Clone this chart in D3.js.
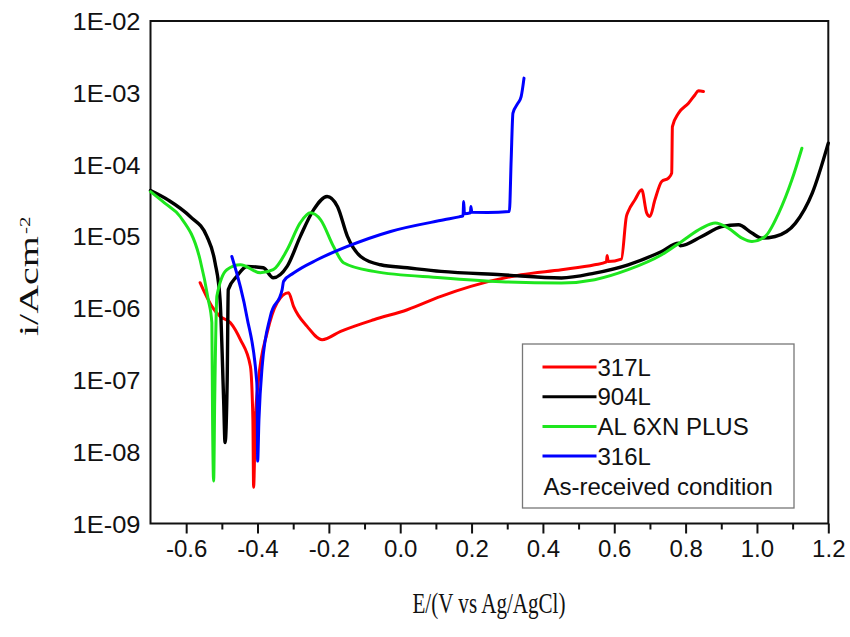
<!DOCTYPE html>
<html>
<head>
<meta charset="utf-8">
<script src="https://cdn.jsdelivr.net/npm/d3@7"></script>
<style>
  body { margin: 0; background: #fff; }
  svg { display: block; }
  .tick-label { font-family: "Liberation Sans", Arial, sans-serif; font-size: 24px; fill: #111; }
  .axis-title { font-family: "Liberation Serif", "Times New Roman", serif; fill: #111; }
  .legend-text { font-family: "Liberation Sans", Arial, sans-serif; font-size: 24px; fill: #111; }
</style>
</head>
<body>
<div id="chart-container"></div>
<script>
/**************************************************
 * Polarization data: [E (V vs Ag/AgCl), i (A/cm2)]
 **************************************************/

const series317L = [
  [-0.561, 2.26e-6], [-0.528, 1.06e-6], [-0.505, 7.67e-7], [-0.476, 6.27e-7],
  [-0.448, 3.64e-7], [-0.420, 1.55e-7], [-0.413, 2.8e-8], [-0.411, 3.2e-9],
  [-0.406, 2.8e-8], [-0.398, 9.2e-8], [-0.373, 4.55e-7], [-0.345, 1.19e-6],
  [-0.313, 1.64e-6], [-0.299, 1.06e-6], [-0.261, 5.57e-7], [-0.219, 3.64e-7],
  [-0.167, 4.75e-7], [-0.074, 6.9e-7], [0.020, 9.5e-7], [0.114, 1.46e-6],
  [0.198, 2.01e-6], [0.339, 2.92e-6], [0.452, 3.43e-6], [0.545, 4.02e-6],
  [0.578, 4.4e-6], [0.580, 5.4e-6], [0.583, 4.47e-6], [0.620, 4.83e-6],
  [0.634, 1.89e-5], [0.639, 2.22e-5], [0.658, 3.23e-5], [0.677, 4.45e-5],
  [0.691, 2.11e-5], [0.700, 1.89e-5], [0.714, 3.23e-5], [0.733, 5.81e-5],
  [0.752, 6.47e-5], [0.761, 7.6e-5], [0.763, 3.38e-4], [0.780, 5.19e-4],
  [0.808, 7.16e-4], [0.826, 9.33e-4], [0.836, 1.07e-3], [0.850, 1.04e-3]
];

const series904L = [
  [-0.700, 4.35e-5], [-0.650, 3.2e-5], [-0.589, 1.89e-5], [-0.542, 1.0e-5],
  [-0.519, 4.29e-6], [-0.505, 1.31e-6], [-0.495, 5.3e-8], [-0.491, 1.34e-8],
  [-0.485, 1.01e-7], [-0.482, 1.81e-6], [-0.458, 2.77e-6], [-0.430, 3.81e-6],
  [-0.384, 3.65e-6], [-0.356, 2.65e-6], [-0.317, 3.81e-6], [-0.280, 1.0e-5],
  [-0.243, 2.34e-5], [-0.205, 3.59e-5], [-0.176, 2.61e-5], [-0.148, 1.0e-5],
  [-0.111, 5.25e-6], [-0.055, 4.02e-6], [0.020, 3.65e-6], [0.114, 3.25e-6],
  [0.283, 2.92e-6], [0.452, 2.63e-6], [0.545, 3.08e-6], [0.639, 4.02e-6],
  [0.733, 6.16e-6], [0.780, 8.06e-6], [0.785, 7.4e-6], [0.845, 9.96e-6],
  [0.901, 1.37e-5], [0.948, 1.45e-5], [0.986, 1.11e-5], [1.014, 9.46e-6],
  [1.051, 9.96e-6], [1.108, 1.53e-5], [1.155, 4.0e-5], [1.200, 1.99e-4]
];

const series6XN = [
  [-0.700, 4.2e-5], [-0.660, 2.9e-5], [-0.617, 1.89e-5], [-0.561, 4.72e-6],
  [-0.538, 1.31e-6], [-0.528, 6.27e-7], [-0.526, 2.8e-8], [-0.523, 3.9e-9],
  [-0.520, 5.3e-8], [-0.514, 1.46e-6], [-0.486, 3.43e-6], [-0.448, 4.02e-6],
  [-0.392, 3.11e-6], [-0.356, 3.43e-6], [-0.317, 6.5e-6], [-0.280, 1.55e-5],
  [-0.252, 2.13e-5], [-0.223, 1.70e-5], [-0.187, 7.23e-6], [-0.159, 4.29e-6],
  [-0.074, 3.25e-6], [0.114, 2.65e-6], [0.283, 2.33e-6], [0.452, 2.24e-6],
  [0.545, 2.49e-6], [0.639, 3.43e-6], [0.733, 5.54e-6], [0.789, 8.49e-6],
  [0.845, 1.30e-5], [0.883, 1.53e-5], [0.920, 1.30e-5], [0.958, 9.46e-6],
  [0.986, 8.49e-6], [1.023, 9.96e-6], [1.061, 2.11e-5], [1.098, 6.13e-5],
  [1.126, 1.69e-4]
];

const series316L = [
  [-0.472, 5.25e-6], [-0.430, 7.67e-7], [-0.402, 9.2e-8], [-0.4005, 2.8e-8],
  [-0.3997, 7.4e-9], [-0.396, 2.8e-8], [-0.387, 1.55e-7], [-0.364, 7.67e-7],
  [-0.331, 1.81e-6], [-0.327, 2.36e-6], [-0.299, 3.08e-6], [-0.233, 4.72e-6],
  [-0.148, 7.23e-6], [-0.027, 1.17e-5], [0.123, 1.70e-5], [0.165, 1.87e-5],
  [0.176, 1.93e-5], [0.178, 3.06e-5], [0.180, 2.06e-5], [0.197, 2.13e-5],
  [0.198, 2.61e-5], [0.201, 2.16e-5], [0.245, 2.15e-5], [0.306, 2.22e-5],
  [0.311, 1.16e-4], [0.316, 5.19e-4], [0.330, 7.16e-4], [0.339, 8.84e-4],
  [0.347, 1.6e-3]
];

const seriesNames = ["317L", "904L", "AL 6XN PLUS", "316L"];
const seriesColors = ["#ff0000", "#000000", "#1ee61e", "#0000ff"];
const seriesData = [series317L, series904L, series6XN, series316L];
const legendNote = "As-received condition";

const xTicks = [-0.6, -0.4, -0.2, 0.0, 0.2, 0.4, 0.6, 0.8, 1.0, 1.2];
const xTickLabels = ["-0.6", "-0.4", "-0.2", "0.0", "0.2", "0.4", "0.6", "0.8", "1.0", "1.2"];
const xMinorTicks = [-0.5, -0.3, -0.1, 0.1, 0.3, 0.5, 0.7, 0.9, 1.1];
const yTicks = [1e-9, 1e-8, 1e-7, 1e-6, 1e-5, 1e-4, 1e-3, 1e-2];
const yTickLabels = ["1E-09", "1E-08", "1E-07", "1E-06", "1E-05", "1E-04", "1E-03", "1E-02"];

/**************************************************
 * Rendering
 **************************************************/

const width = 850, height = 637;
const plotLeft = 150.5, plotRight = 828.3, plotTop = 21, plotBottom = 523.5;

const svg = d3.select("#chart-container")
  .append("svg")
  .attr("width", width)
  .attr("height", height);

const xScale = d3.scaleLinear().domain([-0.7, 1.2]).range([plotLeft, plotRight]);
const yScale = d3.scaleLog().domain([1e-9, 1e-2]).range([plotBottom, plotTop]);

// minor x ticks first, so the major axis draws over them
svg.append("g")
  .attr("transform", `translate(0,${plotBottom})`)
  .call(d3.axisBottom(xScale).tickValues(xMinorTicks).tickSize(6).tickSizeOuter(0).tickFormat(""))
  .call(g => g.select(".domain").remove())
  .call(g => g.selectAll("line").attr("stroke", "#111").attr("stroke-width", 2));

const xAxis = svg.append("g")
  .attr("transform", `translate(0,${plotBottom})`)
  .call(d3.axisBottom(xScale).tickValues(xTicks).tickSize(10).tickSizeOuter(0).tickPadding(6)
    .tickFormat((d, i) => xTickLabels[i]));
xAxis.select(".domain").remove();
xAxis.selectAll("line").attr("stroke", "#111").attr("stroke-width", 2);
xAxis.selectAll("text").attr("class", "tick-label").attr("font-size", null).attr("font-family", null);

const yAxis = svg.append("g")
  .attr("transform", `translate(${plotLeft},0)`)
  .call(d3.axisLeft(yScale).tickValues(yTicks).tickSize(0).tickSizeOuter(0).tickPadding(10)
    .tickFormat((d, i) => yTickLabels[i]));
yAxis.select(".domain").remove();
yAxis.selectAll("text").attr("class", "tick-label").attr("font-size", null).attr("font-family", null)
  .attr("dy", "0.36em")
  .attr("textLength", 68)
  .attr("lengthAdjust", "spacingAndGlyphs");

// frame
svg.append("rect")
  .attr("x", plotLeft)
  .attr("y", plotTop)
  .attr("width", plotRight - plotLeft)
  .attr("height", plotBottom - plotTop)
  .attr("fill", "none")
  .attr("stroke", "#111")
  .attr("stroke-width", 2);

// curves
const line = d3.line()
  .curve(d3.curveMonotoneX)
  .x(d => xScale(d[0]))
  .y(d => yScale(d[1]));

seriesData.forEach((data, i) => {
  svg.append("path")
    .datum(data)
    .attr("d", line)
    .attr("fill", "none")
    .attr("stroke", seriesColors[i])
    .attr("stroke-width", i === 1 ? 3.4 : 3)
    .attr("stroke-linejoin", "round")
    .attr("stroke-linecap", "round");
});

// legend
const legend = svg.append("g").attr("transform", "translate(522.5,344)");
legend.append("rect")
  .attr("width", 271.5)
  .attr("height", 164)
  .attr("fill", "#fff")
  .attr("stroke", "#777")
  .attr("stroke-width", 1.3);

seriesNames.forEach((name, i) => {
  const row = legend.append("g").attr("transform", `translate(0,${23 + i * 29.7})`);
  row.append("line")
    .attr("x1", 20).attr("x2", 74)
    .attr("stroke", seriesColors[i])
    .attr("stroke-width", 3);
  row.append("text")
    .attr("class", "legend-text")
    .attr("x", 75)
    .attr("dy", "0.36em")
    .text(name);
});
legend.append("text")
  .attr("class", "legend-text")
  .attr("x", 21)
  .attr("y", 142)
  .attr("dy", "0.36em")
  .text(legendNote);

// axis titles (the serif titles are narrow in the source, so squeeze them horizontally)
svg.append("text")
  .attr("class", "axis-title")
  .attr("font-size", 30)
  .attr("x", 489)
  .attr("y", 613)
  .attr("text-anchor", "middle")
  .attr("textLength", 153)
  .attr("lengthAdjust", "spacingAndGlyphs")
  .text("E/(V vs Ag/AgCl)");

const yTitle = svg.append("text")
  .attr("class", "axis-title")
  .attr("font-size", 40)
  .attr("transform", "translate(37.5,336) rotate(-90) scale(1,0.66)");
yTitle.append("tspan").text("i/Acm");
yTitle.append("tspan")
  .attr("font-size", 21)
  .attr("dy", -11)
  .attr("dx", 2)
  .text("-2");
</script>
</body>
</html>
